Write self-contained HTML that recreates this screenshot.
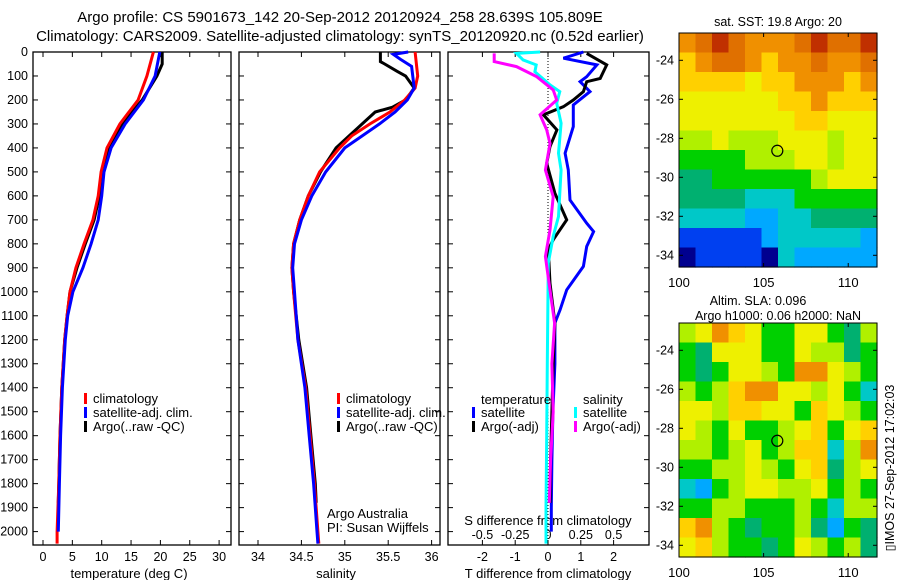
<!DOCTYPE html>
<html><head><meta charset="utf-8"><style>
body{margin:0;background:#fff}
svg{display:block;font-family:"Liberation Sans",sans-serif}
text{fill:#000}
</style></head><body>
<svg id="fig" width="900" height="580" viewBox="0 0 900 580">
<rect x="0" y="0" width="900" height="580" fill="#fff"/>
<text x="340" y="22" font-size="15" text-anchor="middle">Argo profile: CS 5901673_142 20-Sep-2012 20120924_258 28.639S 105.809E</text>
<text x="340" y="41" font-size="15" text-anchor="middle">Climatology: CARS2009. Satellite-adjusted climatology: synTS_20120920.nc (0.52d earlier)</text>
<g id="g1"></g>
<g id="g2"></g>
<g id="g3"></g>
<g id="m1"></g>
<g id="m2"></g>
<text transform="translate(894,468) rotate(-90)" font-size="12.5" text-anchor="middle">▯IMOS 27-Sep-2012 17:02:03</text>
</svg>
<script>
// ---------- data ----------
const pressTicks=[0,100,200,300,400,500,600,700,800,900,1000,1100,1200,1300,1400,1500,1600,1700,1800,1900,2000];
const tempTicks=[0,5,10,15,20,25,30];
const salTicks=[34,34.5,35,35.5,36];
const tdiffTicks=[-2,-1,0,1,2];
const sdiffTicks=[-0.5,-0.25,0,0.25,0.5];
const sdiffLabels=["-0.5","-0.25","0","0.25","0.5"];

const tClimP=[0,100,200,300,400,500,600,700,800,900,1000,1100,1200,1400,1600,1800,2000,2050];
const tClimV=[18.8,17.7,16.2,13.1,10.9,9.9,9.4,8.5,7.0,5.6,4.6,4.1,3.7,3.2,2.9,2.7,2.4,2.4];
const tSatP=[0,100,200,300,400,500,600,700,800,900,1000,1100,1200,1400,1600,1800,2000];
const tSatV=[19.9,19.1,17.1,14.0,11.6,10.4,10.0,9.4,8.2,6.8,5.1,4.2,3.8,3.3,3.0,2.8,2.6];
const tArgoP=[0,50,100,200,300,400,500,600,700,800,900,1000,1100,1200,1400,1600,1800,1880];
const tArgoV=[20.3,20.3,19.4,16.9,13.5,11.2,10.1,9.6,8.7,7.2,5.8,4.6,4.1,3.7,3.2,2.9,2.7,2.6];

const sClimP=[0,100,150,200,250,300,350,400,500,600,700,800,900,1000,1200,1400,1600,1800,2000,2050];
const sClimV=[35.81,35.84,35.81,35.69,35.52,35.29,35.08,34.94,34.71,34.58,34.48,34.41,34.39,34.41,34.46,34.55,34.6,34.65,34.69,34.7];
const sSatP=[0,10,30,60,150,200,250,300,350,400,500,600,700,800,900,1000,1200,1400,1600,1800,2000,2050];
const sSatV=[35.73,35.56,35.64,35.77,35.8,35.72,35.58,35.4,35.2,35.0,34.78,34.62,34.5,34.42,34.4,34.42,34.46,34.54,34.59,34.64,34.68,34.69];
const sArgoP=[0,40,50,80,100,150,200,230,250,300,350,400,500,600,700,800,900,1000,1200,1400,1600,1800,1880];
const sArgoV=[35.41,35.41,35.46,35.6,35.7,35.8,35.7,35.55,35.35,35.2,35.05,34.9,34.72,34.58,34.48,34.41,34.39,34.41,34.47,34.56,34.61,34.66,34.67];

const dTSatP=[0,26,54,103,124,165,221,311,422,492,617,714,749,811,894,992,1075,1130,1300,1500,1700,1900,2000];
const dTSatV=[1.08,0.47,1.49,1.18,0.98,1.28,0.77,0.77,0.52,0.62,0.67,1.18,1.39,1.18,1.08,0.57,0.37,0.21,0.21,0.15,0.12,0.1,0.1];
const dTArgoP=[6,54,110,124,165,200,228,262,325,394,464,589,700,783,825,964,1130,1300,1500,1700,1880];
const dTArgoV=[1.18,1.79,1.59,1.18,1.08,0.77,0.47,-0.14,0.27,0.06,-0.04,0.21,0.57,0.16,0.01,0.06,0.21,0.16,0.12,0.08,0.06];
const dSSatP=[0,6,33,54,82,137,165,214,297,422,492,686,769,880,1000,1300,1600,1900,2050];
const dSSatV=[-0.06,-0.24,-0.19,-0.09,-0.1,0.015,0.09,0.066,0.1,0.08,0.1,0.08,0.04,0.002,0,-0.005,-0.01,-0.015,-0.015];
const dSArgoP=[6,40,61,103,158,200,262,325,381,492,603,742,853,992,1130,1300,1500,1700,1880];
const dSArgoV=[-0.41,-0.41,-0.24,-0.086,0.04,0.066,-0.06,-0.01,0.015,-0.02,0.04,0.015,-0.02,0.015,0.05,0.03,0.04,0.02,0.01];

const lonTicks=[100,105,110];
const latTicks=[-24,-26,-28,-30,-32,-34];
const sstGrid=[
"9 10 11 10 9 9 9 10 11 10 10 11",
"8 9 10 10 9 8 9 9 10 9 9 10",
"8 8 8 8 7 8 8 9 9 9 8 9",
"7 7 7 7 7 7 8 8 9 8 8 8",
"7 7 7 7 7 7 7 8 8 7 7 7",
"6 6 7 6 6 6 7 7 7 6 7 7",
"5 5 5 5 6 6 6 7 7 6 7 7",
"4 4 5 5 5 5 5 5 6 7 7 7",
"4 4 4 4 3 3 3 5 5 5 5 5",
"3 3 3 3 2 2 3 3 4 4 4 4",
"1 1 1 1 1 2 3 3 3 3 3 2",
"0 1 1 1 1 0 3 2 2 2 2 2"];
const slaGrid=[
"6 7 9 8 7 5 5 7 7 5 4 6",
"5 4 7 7 7 5 5 7 6 6 4 5",
"5 4 5 7 7 6 5 9 9 7 6 5",
"6 5 6 8 9 9 7 7 6 7 5 3",
"7 7 6 8 8 7 7 5 8 7 6 5",
"7 6 5 7 5 5 6 7 8 5 7 8",
"6 6 5 6 7 5 6 8 8 3 6 9",
"5 5 6 6 7 6 5 7 8 4 6 7",
"3 2 5 6 7 7 6 6 7 5 6 5",
"5 5 6 6 5 5 5 6 5 3 6 6",
"8 9 6 5 4 5 5 6 4 2 5 4",
"7 8 6 5 5 4 5 7 6 5 6 4"];
const floatLon=105.809, floatLat=-28.639;

// ---------- helpers ----------
const NS="http://www.w3.org/2000/svg";
function mk(parent,tag,attrs,txt){const e=document.createElementNS(NS,tag);for(const k in attrs)e.setAttribute(k,attrs[k]);if(txt!==undefined)e.textContent=txt;parent.appendChild(e);return e;}
const Y0=52, PY=0.2398, YB=545;
const yP=p=>Y0+p*PY;
const xT=t=>43+t*5.87;
const xS=s=>258+(s-34)*86.8;
const xD=t=>548+t*32.8;
const xDS=s=>xD(s*4);

function frame(g,x0,x1,nm){
  const r=mk(g,'rect',{x:x0,y:Y0,width:x1-x0,height:YB-Y0,fill:'none',stroke:'#000','stroke-width':1.3});
  
  
  pressTicks.forEach(p=>{
    mk(g,'line',{x1:x0,x2:x0+5,y1:yP(p),y2:yP(p),stroke:'#000'});
    mk(g,'line',{x1:x1,x2:x1-5,y1:yP(p),y2:yP(p),stroke:'#000'});
  });
}
function xticks(g,vals,labels,fx,ylab){
  vals.forEach((v,i)=>{
    const x=fx(v);
    mk(g,'line',{x1:x,x2:x,y1:YB,y2:YB-5,stroke:'#000'});
    mk(g,'line',{x1:x,x2:x,y1:Y0,y2:Y0+5,stroke:'#000'});
    const t=mk(g,'text',{x:x,y:ylab,'font-size':12.5,'text-anchor':'middle'},labels[i]);
    
    
  });
}
function line(g,P,V,fx,col,nm,w){
  const d=P.map((p,i)=>(i?'L':'M')+fx(V[i]).toFixed(1)+' '+yP(p).toFixed(1)).join(' ');
  const e=mk(g,'path',{d:d,fill:'none',stroke:col,'stroke-width':w||3,'stroke-linejoin':'miter'});
  
  
}
function legend(g,x,y,col,label,nm){
  mk(g,'rect',{x:x,y:y-6,width:3,height:11,fill:col});
  const t=mk(g,'text',{x:x+9,y:y+4,'font-size':13},label);
  
  
}

// ---------- temperature panel ----------
const g1=document.getElementById('g1');
frame(g1,33,231,'temperature');
pressTicks.forEach(p=>{
  const t=mk(g1,'text',{x:28,y:yP(p)+4,'font-size':12.5,'text-anchor':'end'},String(p));
  
  
});
xticks(g1,tempTicks,tempTicks.map(String),xT,561);
mk(g1,'text',{x:129,y:578,'font-size':13,'text-anchor':'middle'},'temperature (deg C)');
line(g1,tArgoP,tArgoV,xT,'#000','argo-temperature-line');
line(g1,tClimP,tClimV,xT,'#f00','climatology-temperature-line');
line(g1,tSatP,tSatV,xT,'#00f','satellite-temperature-line');
legend(g1,84,399,'#f00','climatology','legend-climatology');
legend(g1,84,413,'#00f','satellite-adj. clim.','legend-satellite');
legend(g1,84,427,'#000','Argo(..raw -QC)','legend-argo');

// ---------- salinity panel ----------
const g2=document.getElementById('g2');
frame(g2,239,440,'salinity');
xticks(g2,salTicks,salTicks.map(String),xS,561);
mk(g2,'text',{x:336,y:578,'font-size':13,'text-anchor':'middle'},'salinity');
line(g2,sArgoP,sArgoV,xS,'#000','argo-salinity-line');
line(g2,sClimP,sClimV,xS,'#f00','climatology-salinity-line');
line(g2,sSatP,sSatV,xS,'#00f','satellite-salinity-line');
legend(g2,337,399,'#f00','climatology','legend-climatology');
legend(g2,337,413,'#00f','satellite-adj. clim.','legend-satellite');
legend(g2,337,427,'#000','Argo(..raw -QC)','legend-argo');
mk(g2,'text',{x:327,y:518,'font-size':13},'Argo Australia');
mk(g2,'text',{x:327,y:532,'font-size':13},'PI: Susan Wijffels');

// ---------- difference panel ----------
const g3=document.getElementById('g3');
frame(g3,448,649,'difference');
mk(g3,'line',{x1:xD(0),x2:xD(0),y1:Y0,y2:YB,stroke:'#000','stroke-dasharray':'1,2'});
xticks(g3,tdiffTicks,tdiffTicks.map(String),xD,561);
sdiffTicks.forEach((v,i)=>{
  const t=mk(g3,'text',{x:xDS(v),y:539,'font-size':12.5,'text-anchor':'middle'},sdiffLabels[i]);
  
  
});
mk(g3,'text',{x:548,y:525,'font-size':13,'text-anchor':'middle'},'S difference from climatology');
mk(g3,'text',{x:548,y:578,'font-size':13,'text-anchor':'middle'},'T difference from climatology');
line(g3,dTSatP,dTSatV,xD,'#00f','temp-diff-satellite-line');
line(g3,dTArgoP,dTArgoV,xD,'#000','temp-diff-argo-line');
line(g3,dSSatP,dSSatV,xDS,'#0ff','sal-diff-satellite-line');
line(g3,dSArgoP,dSArgoV,xDS,'#f0f','sal-diff-argo-line');
mk(g3,'text',{x:481,y:404,'font-size':13},'temperature');
legend(g3,472,413,'#00f','satellite','legend-temp-satellite');
legend(g3,472,427,'#000','Argo(-adj)','legend-temp-argo');
mk(g3,'text',{x:583,y:404,'font-size':13},'salinity');
legend(g3,574,413,'#0ff','satellite','legend-sal-satellite');
legend(g3,574,427,'#f0f','Argo(-adj)','legend-sal-argo');

// ---------- maps ----------
const pal=['#00008f','#0040f0','#00a8ff','#00c8c8','#00b070','#00d000','#b0f000','#eef000','#ffd000','#f09000','#e07000','#c03000'];
function map(id,grid,top,titleLines,nm){
  const g=document.getElementById(id);
  const X0=679,X1=877,Y1=top+234;
  const lonMin=100,lonMax=111.7,latTop=-22.6,latBot=-34.6;
  const mx=l=>X0+(l-lonMin)/(lonMax-lonMin)*(X1-X0);
  const my=l=>top+(latTop-l)/(latTop-latBot)*(Y1-top);
  const rows=grid.map(r=>r.split(' ').map(Number));
  const nr=rows.length,nc=rows[0].length;
  const cw=(X1-X0)/nc,ch=(Y1-top)/nr;
  rows.forEach((r,i)=>r.forEach((v,j)=>{
    const c=mk(g,'rect',{x:(X0+j*cw).toFixed(1),y:(top+i*ch).toFixed(1),width:(cw+0.6).toFixed(1),height:(ch+0.6).toFixed(1),fill:pal[v]});
    
    
  }));
  mk(g,'rect',{x:X0,y:top,width:X1-X0,height:Y1-top,fill:'none',stroke:'#000'});
  lonTicks.forEach(l=>{
    mk(g,'line',{x1:mx(l),x2:mx(l),y1:Y1,y2:Y1-4,stroke:'#000'});
    mk(g,'line',{x1:mx(l),x2:mx(l),y1:top,y2:top+4,stroke:'#000'});
    const t=mk(g,'text',{x:mx(l),y:Y1+20,'font-size':13,'text-anchor':'middle'},String(l));
    
    
  });
  latTicks.forEach(l=>{
    mk(g,'line',{x1:X0,x2:X0+4,y1:my(l),y2:my(l),stroke:'#000'});
    mk(g,'line',{x1:X1,x2:X1-4,y1:my(l),y2:my(l),stroke:'#000'});
    const t=mk(g,'text',{x:X0-5,y:my(l)+4,'font-size':12.5,'text-anchor':'end'},String(l));
    
    
  });
  const c=mk(g,'circle',{cx:mx(floatLon),cy:my(floatLat),r:5.5,fill:'none',stroke:'#000','stroke-width':1.2});
  
  
  titleLines.forEach(tl=>{
    const t=mk(g,'text',{x:tl[0],y:tl[1],'font-size':12.5,'text-anchor':'middle'},tl[2]);
    
    
  });
}
map('m1',sstGrid,33,[[778,26,'sat. SST: 19.8 Argo: 20']],'sst-map');
map('m2',slaGrid,323,[[758,305,'Altim. SLA: 0.096'],[778,320,'Argo h1000: 0.06 h2000: NaN']],'sla-map');
</script>
</body></html>
